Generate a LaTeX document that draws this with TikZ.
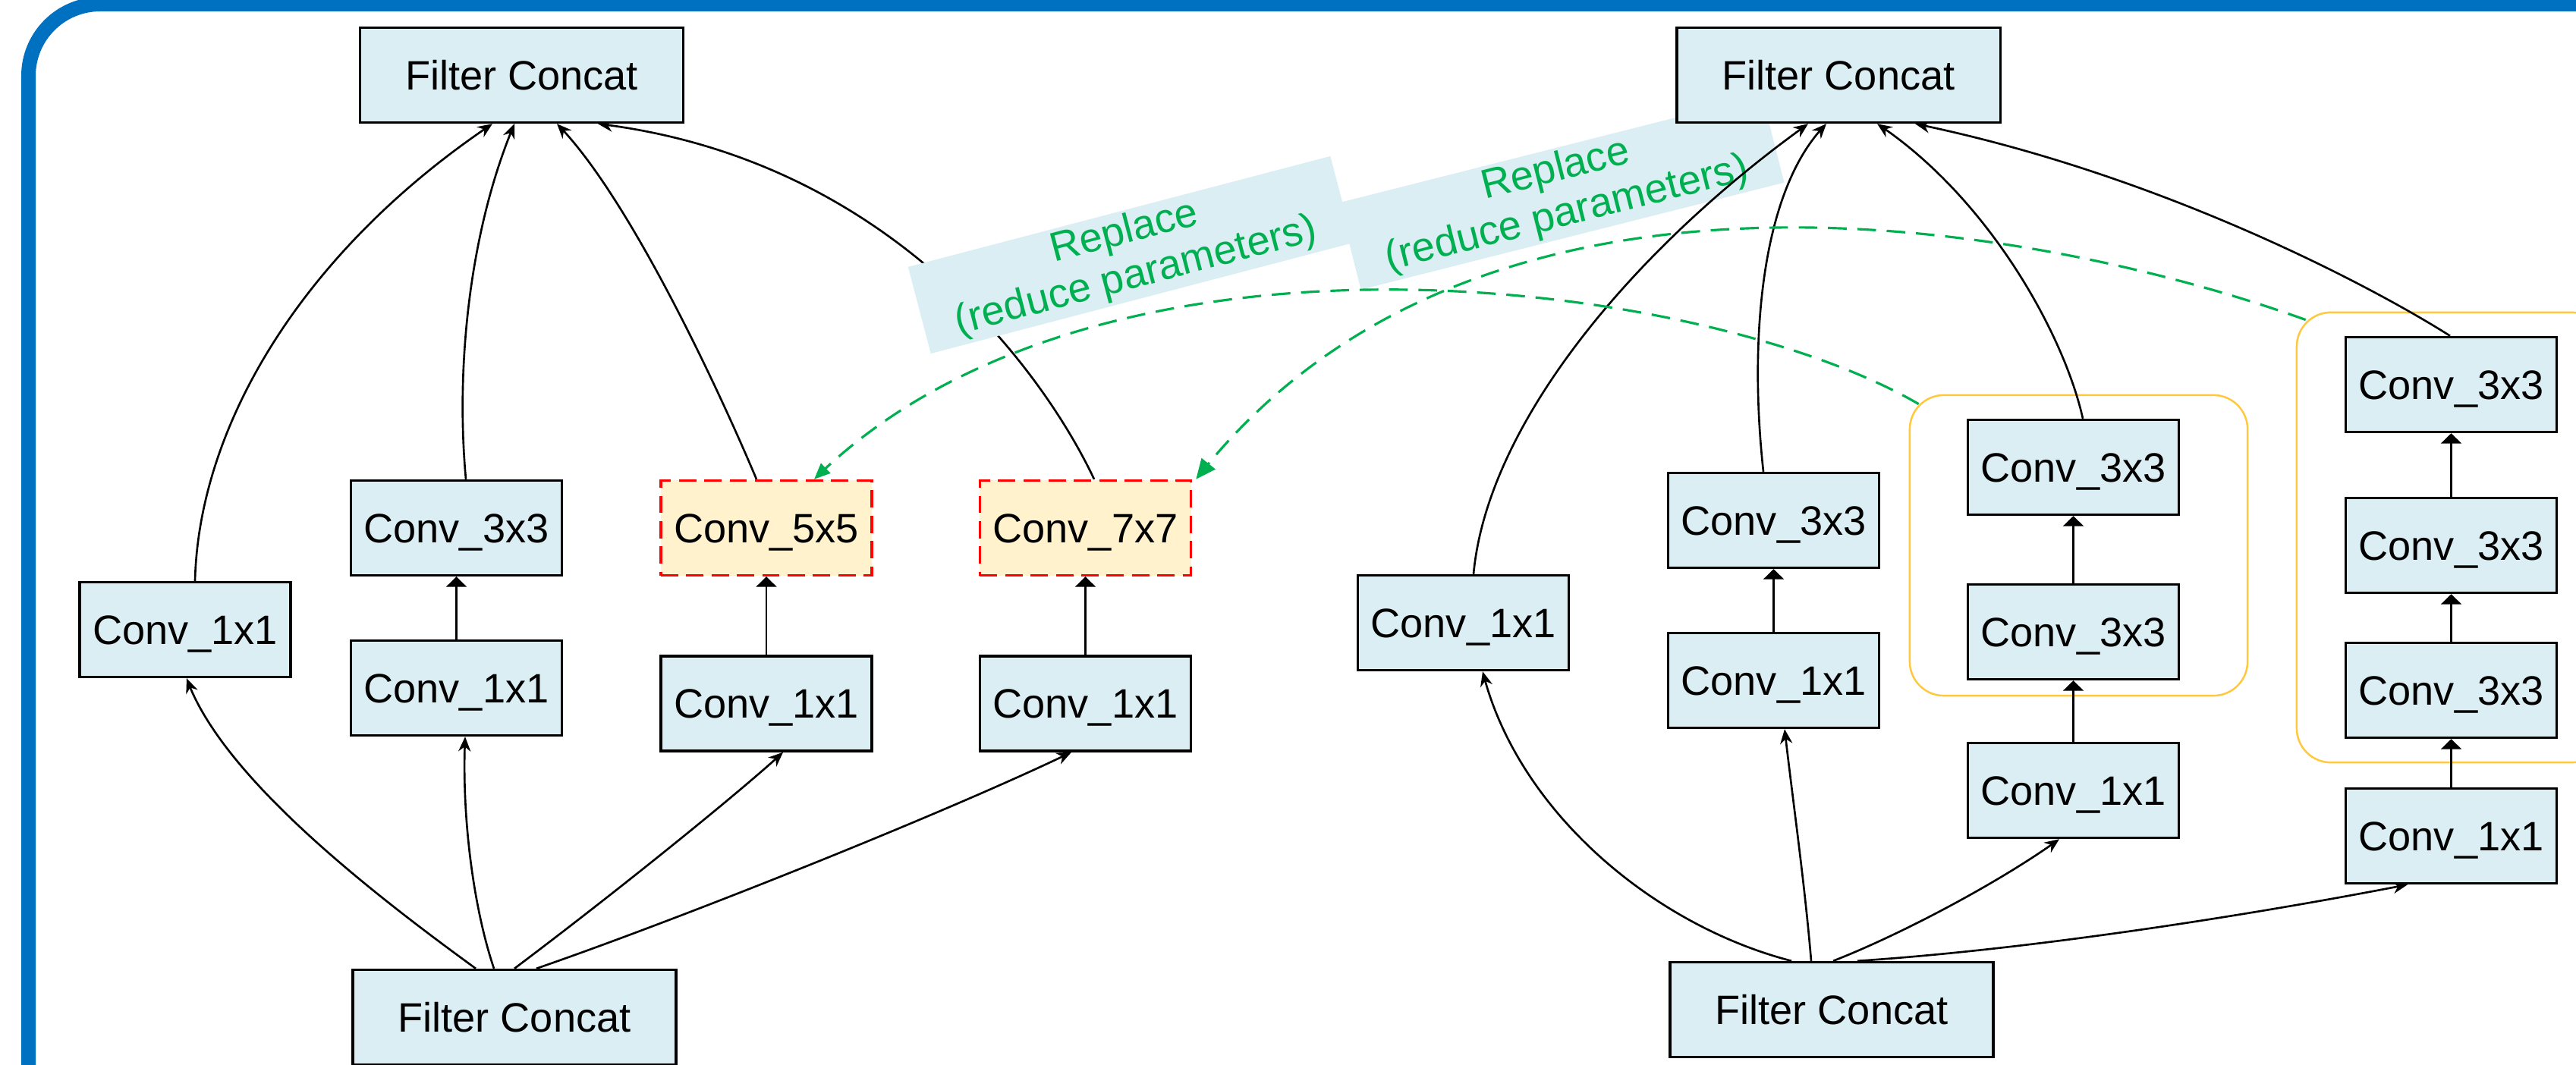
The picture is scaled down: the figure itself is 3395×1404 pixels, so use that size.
\documentclass[tikz,border=0pt]{standalone}
\usepackage{fontspec}
\setmainfont{Liberation Sans}
\usetikzlibrary{arrows.meta,calc,bending}
\definecolor{boxblue}{HTML}{DAEEF3}
\definecolor{boxyel}{HTML}{FFF2CC}
\definecolor{frameblue}{HTML}{0070C0}
\definecolor{grn}{HTML}{00B050}
\definecolor{gold}{HTML}{FFC83D}
\pgfdeclarelayer{bg}
\pgfdeclarelayer{under}
\pgfdeclarelayer{labels}
\pgfdeclarelayer{wires}
\pgfsetlayers{bg,under,labels,wires,main}
\tikzset{
  blk/.style={draw=black, line width=0.95pt, fill=boxblue, inner sep=0pt,
    minimum height=1.25cm, text height=11pt, text depth=0pt,
    font=\fontsize{15.4}{18}\selectfont},
  conv/.style={blk, minimum width=2.78cm},
  fc/.style={blk, minimum width=4.26cm},
  newconv/.style={conv, fill=boxyel, draw=red, dash pattern=on 6.5pt off 3pt},
  grp/.style={draw=gold, line width=0.7pt, rounded corners=0.45cm, inner sep=0pt},
  wire/.style={line width=0.75pt, -{Stealth[length=5.5pt,width=4.6pt]}},
  up/.style={line width=0.75pt, -{Triangle[length=3.8pt,width=7.6pt]}},
  gdash/.style={draw=grn, line width=0.9pt, dash pattern=on 7pt off 4pt,
    -{Triangle[length=6pt,width=5pt]}},
  gdashbig/.style={gdash, -{Triangle[length=7.5pt,width=6.5pt]}},
  lbl/.style={fill=boxblue, text=grn, minimum width=5.75cm, minimum height=1.18cm,
    align=center, inner sep=0pt, font=\fontsize{15.4}{17}\selectfont}
}
\begin{document}
\begin{tikzpicture}[x=0.01cm, y=-0.01cm]
\useasboundingbox (0,0) rectangle (3395,1404);
\begin{pgfonlayer}{bg}
  \fill[white] (0,0) rectangle (3395,1404);
\end{pgfonlayer}
\clip (0,0) rectangle (3395,1404);

% frame
\draw[frameblue, line width=0.19cm, rounded corners=0.945cm] (37.5,5.5) rectangle (3700,1700);

% left module
\node[fc] (lFCt) at (687.5,99) {Filter Concat};
\node[fc] (lFCb) at (678,1341) {Filter Concat};
\node[conv] (l11a) at (244,830) {Conv\_1x1};
\node[conv] (l33) at (601.5,696) {Conv\_3x3};
\node[conv] (l11b) at (601.5,907) {Conv\_1x1};
\node[newconv] (l55) at (1010,696) {Conv\_5x5};
\node[conv] (l11c) at (1010,927.5) {Conv\_1x1};
\node[newconv] (l77) at (1430.5,696) {Conv\_7x7};
\node[conv] (l11d) at (1430.5,927.5) {Conv\_1x1};

% right module
\node[fc] (rFCt) at (2423,99) {Filter Concat};
\node[fc] (rFCb) at (2414,1331) {Filter Concat};
\node[conv] (r11a) at (1928.5,821) {Conv\_1x1};
\node[conv] (r33) at (2337.5,686) {Conv\_3x3};
\node[conv] (r11b) at (2337.5,897) {Conv\_1x1};
\node[conv] (r3a) at (2732.5,616) {Conv\_3x3};
\node[conv] (r3b) at (2732.5,833) {Conv\_3x3};
\node[conv] (r11c) at (2732.5,1042) {Conv\_1x1};
\node[conv] (r4a) at (3230.5,507) {Conv\_3x3};
\node[conv] (r4b) at (3230.5,719) {Conv\_3x3};
\node[conv] (r4c) at (3230.5,910) {Conv\_3x3};
\node[conv] (r11d) at (3230.5,1102) {Conv\_1x1};

\begin{pgfonlayer}{under}
  \node[grp, minimum width=4.45cm, minimum height=3.96cm] (g1) at (2739.5,719) {};
  \node[grp, minimum width=4.07cm, minimum height=5.93cm] (g2) at (3230.5,708.5) {};
  \draw[wire] ($(l77.north)+(11.5,0)$) .. controls (1380,500) and (1180,210) .. ($(lFCt.south)+(100.5,0)$);
\end{pgfonlayer}

\begin{pgfonlayer}{labels}
  \node[lbl, rotate=14.7] (rep1) at (1490,336) {Replace\\(reduce parameters)};
  \node[lbl, rotate=14.2] (rep2) at (2058,254) {Replace\\(reduce parameters)};
\end{pgfonlayer}

\begin{pgfonlayer}{wires}
  % left
  \draw[wire] ($(l11a.north)+(13,0)$) .. controls (262,560) and (400,330) .. ($(lFCt.south)+(-38.5,0)$);
  \draw[wire] ($(l33.north)+(12.5,0)$) .. controls (600,480) and (620,300) .. ($(lFCt.south)+(-9.5,0)$);
  \draw[wire] ($(l55.north)+(-13,0)$) .. controls (950,520) and (830,260) .. ($(lFCt.south)+(46.5,0)$);
  \draw[wire] ($(lFCb.north)+(-51,0)$) .. controls (480,1170) and (290,1020) .. ($(l11a.south)+(2,0)$);
  \draw[wire] ($(lFCb.north)+(-27,0)$) .. controls (625,1200) and (608,1080) .. ($(l11b.south)+(11.5,0)$);
  \draw[wire] (lFCb.north) .. controls (820,1170) and (980,1040) .. ($(l11c.south)+(22,0)$);
  \draw[wire] ($(lFCb.north)+(29,0)$) .. controls (900,1210) and (1250,1070) .. ($(l11d.south)+(-18.5,0)$);
  \draw[up] (l11b.north) -- (l33.south);
  \draw[up] (l11c.north) -- (l55.south);
  \draw[up] (l11d.north) -- (l77.south);
  % right
  \draw[wire] ($(r11a.north)+(13.5,0)$) .. controls (1960,560) and (2150,330) .. ($(rFCt.south)+(-40,0)$);
  \draw[wire] ($(r33.north)+(-13.5,0)$) .. controls (2305,450) and (2320,250) .. ($(rFCt.south)+(-16,0)$);
  \draw[wire] ($(r3a.north)+(12.5,0)$) .. controls (2720,440) and (2620,260) .. ($(rFCt.south)+(51,0)$);
  \draw[wire] ($(r4a.north)+(-1.5,0)$) .. controls (3130,380) and (2850,230) .. ($(rFCt.south)+(101,0)$);
  \draw[wire] ($(rFCb.north)+(-53,0)$) .. controls (2180,1220) and (2000,1070) .. ($(r11a.south)+(25.5,0)$);
  \draw[wire] ($(rFCb.north)+(-27,0)$) .. controls (2378,1160) and (2362,1050) .. ($(r11b.south)+(14.5,0)$);
  \draw[wire] ($(rFCb.north)+(2,0)$) .. controls (2510,1230) and (2640,1160) .. ($(r11c.south)+(-18.5,0)$);
  \draw[wire] ($(rFCb.north)+(34,0)$) .. controls (2700,1250) and (3000,1200) .. ($(r11d.south)+(-57.5,0)$);
  \draw[up] (r11b.north) -- (r33.south);
  \draw[up] (r11c.north) -- (r3b.south);
  \draw[up] (r3b.north) -- (r3a.south);
  \draw[up] (r11d.north) -- (r4c.south);
  \draw[up] (r4c.north) -- (r4b.south);
  \draw[up] (r4b.north) -- (r4a.south);
  % replacement links
  \draw[gdash] ($(g1.north west)+(13,13)$) .. controls (2250,370) and (1450,260) .. ($(l55.north)+(63,0)$);
  \draw[gdashbig] ($(g2.north west)+(13,11)$) .. controls (2700,300) and (1950,150) .. ($(l77.north east)+(5,0)$);
\end{pgfonlayer}
\end{tikzpicture}
\end{document}
